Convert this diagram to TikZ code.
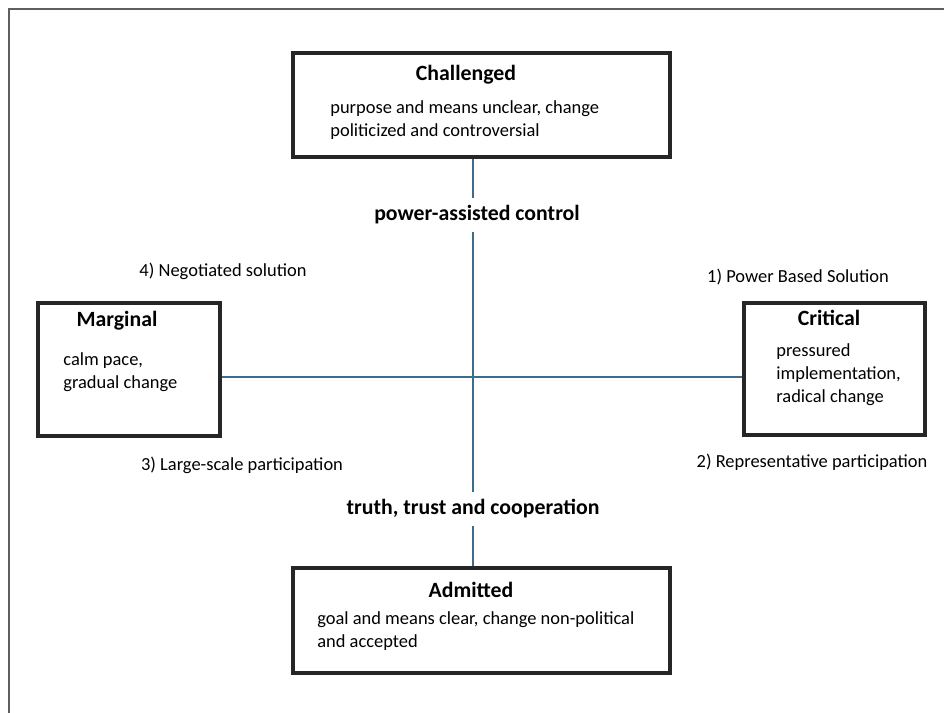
\documentclass[tikz,border=0pt]{standalone}
\usepackage{fontspec}
\setmainfont{Carlito}
\usetikzlibrary{positioning}
\definecolor{axisblue}{RGB}{60,110,140}
\definecolor{boxgray}{RGB}{38,38,38}
\definecolor{framegray}{RGB}{95,95,95}
\tikzset{
  state/.style={draw=boxgray, line width=1.9pt, inner sep=0pt},
  title/.style={font=\fontsize{12.4}{15}\selectfont\bfseries, inner sep=0pt},
  body/.style={font=\fontsize{10.5}{13}\selectfont, align=left, anchor=west, inner sep=0pt},
  strategy/.style={font=\fontsize{10.5}{13}\selectfont, inner sep=0pt},
  axislabel/.style={font=\fontsize{12.4}{15}\selectfont\bfseries, inner sep=0pt, minimum height=0.68cm},
  axis/.style={draw=axisblue, line width=1.7pt},
}

\begin{document}
\begin{tikzpicture}[x=0.02cm,y=-0.02cm]
    \useasboundingbox (0,0) rectangle (944,713);
    % Frame along the top and the left side.
    \draw[framegray, line width=1.1pt] (9,713) -- (9,9) -- (944,9);

    % Draw the four states.
    \node[state, minimum width=7.54cm, minimum height=2.08cm] (chal) at (481.5,105) {};
    \node[title] (chalT) at (466,75) {Challenged};
    \node[body] (chalB) at (330,120) {purpose and means unclear, change\\politicized and controversial};

    \node[state, minimum width=7.54cm, minimum height=2.1cm] (adm) at (481.5,620.5) {};
    \node[title] (admT) at (471,590) {Admitted};
    \node[body] (admB) at (317,631) {goal and means clear, change non-political\\and accepted};

    \node[state, minimum width=3.64cm, minimum height=2.66cm] (marg) at (129,369.5) {};
    \node[title] (margT) at (117,321) {Marginal};
    \node[body] (margB) at (63,372) {calm pace,\\gradual change};

    \node[state, minimum width=3.62cm, minimum height=2.64cm] (crit) at (834.5,369) {};
    \node[title] (critT) at (829,318) {Critical};
    \node[body] (critB) at (776,374.5) {pressured\\implementation,\\radical change};

    % The axes through the middle.
    \coordinate (ctr) at (473,377);
    \node[axislabel] (pac) at (477,215) {power-assisted control};
    \node[axislabel] (ttc) at (473,509) {truth, trust and cooperation};
    \draw[axis] (chal.south -| ctr) -- (pac.north -| ctr);
    \draw[axis] (pac.south -| ctr) -- (ttc.north -| ctr);
    \draw[axis] (ttc.south -| ctr) -- (adm.north -| ctr);
    \draw[axis] (marg.east |- ctr) -- (crit.west |- ctr);

    % Solutions in the corners.
    \node[strategy] (sol1) at (798,277) {1) Power Based Solution};
    \node[strategy] (sol2) at (812,462) {2) Representative participation};
    \node[strategy] (sol3) at (242,465) {3) Large-scale participation};
    \node[strategy] (sol4) at (223,271) {4) Negotiated solution};
\end{tikzpicture}
\end{document}
